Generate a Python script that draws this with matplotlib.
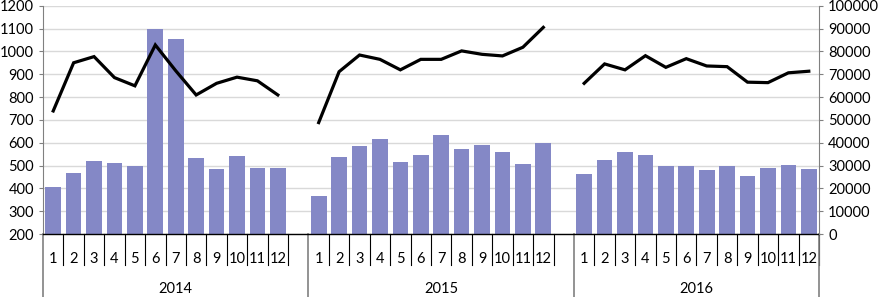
import numpy as np
import matplotlib.pyplot as plt
import matplotlib.transforms as mtransforms

plt.rcParams['font.family'] = ['Lato', 'DejaVu Sans']

years = ['2014', '2015', '2016']
months = [str(m) for m in range(1, 13)]

# left axis (bars)
bars_2014 = [404, 469, 518, 512, 497, 1100, 1056, 532, 483, 542, 491, 487]
bars_2015 = [368, 537, 586, 615, 516, 547, 633, 573, 589, 560, 508, 599]
bars_2016 = [462, 522, 557, 547, 496, 499, 481, 499, 454, 487, 502, 486]

# right axis (line)
line_2014 = [53900, 75000, 77700, 68500, 64900, 82800, 71500, 60900, 66000, 68700, 67100, 60900]
line_2015 = [48800, 71100, 78400, 76500, 71900, 76500, 76500, 80200, 78700, 78000, 81800, 90500]
line_2016 = [66000, 74500, 71900, 78100, 73000, 76800, 73600, 73300, 66500, 66300, 70600, 71300]

bar_groups = [bars_2014, bars_2015, bars_2016]
line_groups = [line_2014, line_2015, line_2016]

# build slot positions: 12 months per year plus one blank slot between years
bar_vals, line_vals, labels, group_edges = [], [], [], [0]
for i, (b, l) in enumerate(zip(bar_groups, line_groups)):
    bar_vals += b
    line_vals += l
    labels += months
    if i < len(years) - 1:
        bar_vals.append(np.nan)
        line_vals.append(np.nan)
        labels.append('')
    group_edges.append(len(bar_vals))
x = np.arange(len(bar_vals))
bar_vals = np.array(bar_vals, dtype=float)
line_vals = np.array(line_vals, dtype=float)

fig = plt.figure(figsize=(8.83, 2.97), dpi=100)
ax = fig.add_axes([43/883, 1 - 234/297, (819 - 43)/883, (234 - 5.7)/297])
ax2 = ax.twinx()

ax.set_zorder(0)
ax2.set_zorder(1)
ax.bar(x, np.nan_to_num(bar_vals - 200), bottom=200, width=0.77, color='#8488C6', zorder=2)
ax2.plot(x, line_vals, color='black', lw=2.3, solid_joinstyle='miter', zorder=3)

ax.set_ylim(200, 1200)
ax.set_yticks(np.arange(200, 1201, 100))
ax2.set_ylim(0, 100000)
ax2.set_yticks(np.arange(0, 100001, 10000))
ax.set_xlim(-0.5, len(x) - 0.5)
ax.yaxis.grid(True, color='#d9d9d9', lw=1)
ax.set_axisbelow(True)

gray = '#808080'
for a in (ax, ax2):
    a.spines['top'].set_visible(False)
    a.spines['bottom'].set_visible(False)
    a.tick_params(labelsize=10.5, colors='black', length=3, color=gray)
    a.spines['left'].set_color(gray)
    a.spines['right'].set_color(gray)
ax2.spines['left'].set_visible(False)
ax.spines['right'].set_visible(False)
ax.set_xticks([])

# bottom axis line and category labels
trans = mtransforms.blended_transform_factory(ax.transData, ax.transAxes)
ax.plot([-0.5, len(x) - 0.5], [0, 0], transform=trans, color='black', lw=1, clip_on=False, zorder=5)
for xi, lab in zip(x, labels):
    if lab:
        ax.text(xi, -0.08, lab, transform=trans, ha='center', va='top', fontsize=10.5)
# month separators
for g in range(len(years)):
    start = group_edges[g]
    for k in range(1, 13):
        xe = start + k - 0.5
        ax.plot([xe, xe], [0, -0.135], transform=trans, color='black', lw=0.8, clip_on=False)
# year separators and labels
for e in group_edges:
    ax.plot([e - 0.5, e - 0.5], [0, -0.28], transform=trans, color=gray, lw=1.2, clip_on=False)
for g, yr in enumerate(years):
    mid = (group_edges[g] + group_edges[g + 1]) / 2 - 0.5
    ax.text(mid, -0.21, yr, transform=trans, ha='center', va='top', fontsize=10.5)

fig.savefig('out.png', dpi=100)
